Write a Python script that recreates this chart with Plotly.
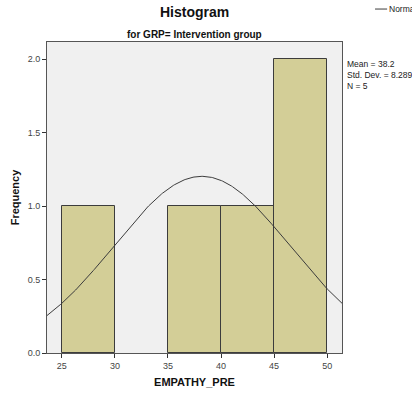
import numpy as np
import plotly.graph_objects as go

# Histogram bins (lower edges) and counts for EMPATHY_PRE
bin_starts = [25, 35, 40, 45]
bin_counts = [1, 1, 1, 2]
bin_width = 5

# Summary statistics shown beside the chart
mean_val = 38.2
std_val = 8.289
n_val = 5

x_ticks = [25, 30, 35, 40, 45, 50]
y_ticks = [0.0, 0.5, 1.0, 1.5, 2.0]

x_range = [23.6, 51.4]
y_range = [0, 2.118]

FONT = "Liberation Sans, Arial, sans-serif"

fig = go.Figure()

fig.add_trace(go.Bar(
    x=[s + bin_width / 2 for s in bin_starts],
    y=bin_counts,
    width=[bin_width] * len(bin_starts),
    marker=dict(color="#D3CE97", line=dict(color="#3C3C3C", width=1)),
    showlegend=False,
    hoverinfo="skip",
))

# Normal curve scaled to counts: N * bin width * pdf
xs = np.linspace(x_range[0], x_range[1], 300)
pdf = np.exp(-0.5 * ((xs - mean_val) / std_val) ** 2) / (std_val * np.sqrt(2 * np.pi))
fig.add_trace(go.Scatter(
    x=xs, y=n_val * bin_width * pdf,
    mode="lines", line=dict(color="#3C3C3C", width=1),
    name="Normal", showlegend=False, hoverinfo="skip",
))

fig.update_layout(
    width=412, height=395,
    margin=dict(l=47, r=70, t=42, b=42, autoexpand=False),
    paper_bgcolor="white",
    plot_bgcolor="#F0F0F0",
    bargap=0,
    font=dict(family=FONT, size=9, color="#444444"),
    annotations=[
        dict(text="<b>Histogram</b>", x=0.5, y=1, xref="paper", yref="paper",
             xanchor="center", yanchor="bottom", yshift=20, showarrow=False,
             font=dict(size=14, color="#111111")),
        dict(text="<b>for GRP= Intervention group</b>", x=0.5, y=1, xref="paper",
             yref="paper", xanchor="center", yanchor="bottom", yshift=0,
             showarrow=False, font=dict(size=10, color="#111111")),
        dict(text=f"Mean = {mean_val}<br>Std. Dev. = {std_val}<br>N = {n_val}",
             x=1, y=1, xref="paper", yref="paper", xanchor="left", yanchor="top",
             xshift=3, yshift=-15, align="left", showarrow=False,
             font=dict(size=8.5, color="#222222")),
        dict(text="Normal", x=1, y=1, xref="paper", yref="paper", xanchor="left",
             yanchor="middle", xshift=45, yshift=33, showarrow=False,
             font=dict(size=8.5, color="#222222")),
    ],
    shapes=[
        dict(type="line", xref="paper", yref="paper", x0=1.112, x1=1.153,
             y0=1.106, y1=1.106, line=dict(color="#3C3C3C", width=1)),
    ],
)

fig.update_xaxes(
    range=x_range, tickvals=x_ticks, ticktext=[str(t) for t in x_ticks],
    ticks="outside", ticklen=4, tickcolor="#333333",
    showgrid=False, zeroline=False, automargin=False,
    showline=True, linecolor="#555555", mirror=True,
    title=dict(text="<b>EMPATHY_PRE</b>", font=dict(size=11, color="#111111"), standoff=8),
)
fig.update_yaxes(
    range=y_range, tickvals=y_ticks, ticktext=[f"{t:.1f}" for t in y_ticks],
    ticks="outside", ticklen=4, tickcolor="#333333",
    showgrid=False, zeroline=False, automargin=False,
    showline=True, linecolor="#555555", mirror=True,
    title=dict(text="<b>Frequency</b>", font=dict(size=11, color="#111111"), standoff=5),
)

fig.write_html("out.html")
